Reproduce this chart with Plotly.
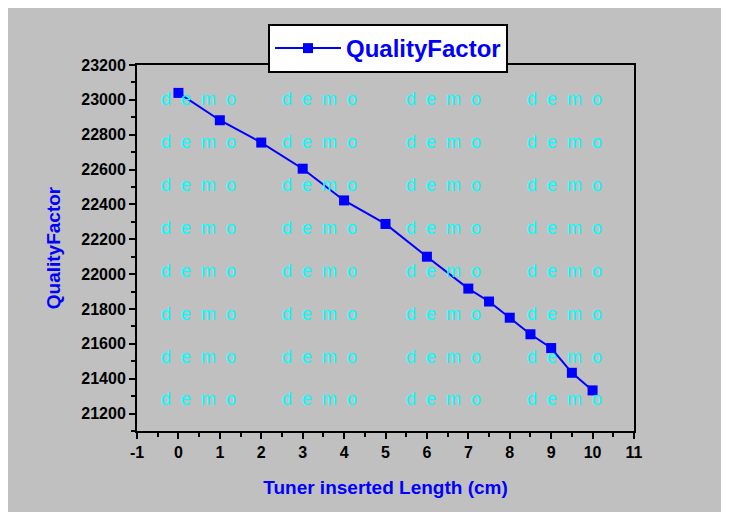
import plotly.graph_objects as go

# Data
tuner_length = [0, 1, 2, 3, 4, 5, 6, 7, 7.5, 8, 8.5, 9, 9.5, 10]
quality_factor = [23040, 22883, 22755, 22605, 22423, 22288, 22100, 21917, 21843, 21750, 21655, 21576, 21434, 21333]
x_ticks = list(range(-1, 12))
x_tick_text = [str(v) for v in x_ticks]
y_ticks = list(range(21200, 23201, 200))
y_tick_text = [str(v) for v in y_ticks]

GRAY = "#C0C0C0"
BLUE = "#0000FF"
FONT = "Liberation Sans, Arial, sans-serif"

fig = go.Figure()
fig.add_trace(go.Scatter(
    x=tuner_length, y=quality_factor, mode="lines+markers", name="QualityFactor",
    line=dict(color=BLUE, width=2),
    marker=dict(symbol="square", size=10, color=BLUE),
))

# watermark
cols = [0.123, 0.368, 0.616, 0.861]
rows = [0.907, 0.790, 0.672, 0.555, 0.437, 0.320, 0.202, 0.087]
annotations = []
for cx in cols:
    for ry in rows:
        annotations.append(dict(
            text="d\u00a0\u00a0e\u00a0\u00a0m\u00a0\u00a0o", x=cx, y=ry, xref="paper", yref="paper",
            showarrow=False, xanchor="center", yanchor="middle",
            font=dict(family=FONT, size=18, color="#00FFFF"),
        ))

axis_common = dict(
    showline=True, linecolor="black", linewidth=2, mirror=True,
    ticks="outside", ticklen=6, tickwidth=2, tickcolor="black",
    showgrid=False, zeroline=False,
    tickfont=dict(family=FONT, size=16, color="black", weight="bold"),
)

fig.update_layout(
    width=720, height=504,
    paper_bgcolor=GRAY, plot_bgcolor=GRAY,
    margin=dict(l=129, r=94, t=57, b=81),
    font=dict(family=FONT),
    showlegend=True,
    legend=dict(
        x=0.2636, y=1.112, xanchor="left", yanchor="top",
        bgcolor="white", bordercolor="black", borderwidth=2,
        font=dict(family=FONT, size=24, color=BLUE, weight="bold"),
        itemwidth=66,
    ),
    annotations=annotations,
)

fig.update_xaxes(
    **axis_common, range=[-1, 11], tickvals=x_ticks, ticktext=x_tick_text,
    minor=dict(dtick=0.5, ticks="outside", ticklen=4, tickwidth=2, tickcolor="black"),
    title=dict(text="Tuner inserted Length (cm)", standoff=20,
               font=dict(family=FONT, size=19, color=BLUE, weight="bold")),
)
fig.update_yaxes(
    **axis_common, range=[21100, 23200], tickvals=y_ticks, ticktext=y_tick_text,
    minor=dict(dtick=100, ticks="outside", ticklen=4, tickwidth=2, tickcolor="black"),
    title=dict(text="QualityFactor", standoff=16,
               font=dict(family=FONT, size=19, color=BLUE, weight="bold")),
)

fig.write_html("out.html", post_script="document.body.style.overflow='hidden';")
